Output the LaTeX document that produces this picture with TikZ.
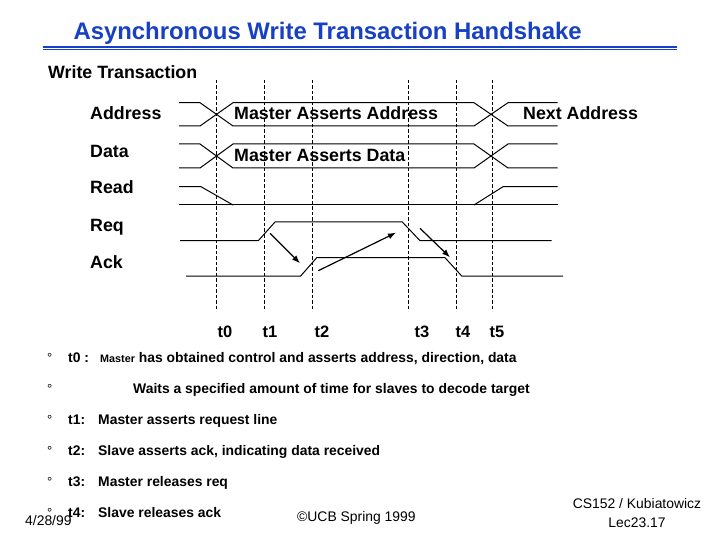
\documentclass[tikz,border=0pt]{standalone}
\usepackage{fontspec}
\setmainfont{Liberation Sans}
\usetikzlibrary{arrows.meta}
\definecolor{slideblue}{RGB}{24,64,196}
\begin{document}
\begin{tikzpicture}[x=1pt,y=1pt,
  every node/.style={inner sep=0pt, anchor=base west},
  wave/.style={black, line width=1pt},
  tick/.style={black, line width=0.6pt, dash pattern=on 3.5pt off 2pt},
  flow/.style={black, line width=1.2pt, -{Latex[length=8pt,width=6pt]}},
  sig/.style={font=\bfseries\fontsize{17.8}{18}\selectfont},
  tlab/.style={anchor=base, font=\bfseries\fontsize{16.5}{17}\selectfont},
  item/.style={font=\bfseries\fontsize{13.9}{14}\selectfont},
  dot/.style={font=\fontsize{13}{13}\selectfont},
  foot/.style={font=\fontsize{13.9}{14}\selectfont}]
\useasboundingbox (0,0) rectangle (720,-540);
% title
\draw (73.3,-40) node (title) [text=slideblue, font=\bfseries\fontsize{23.9}{24}\selectfont] {Asynchronous Write Transaction Handshake};
\draw [slideblue, line width=2pt] (42.7,-46.7) -- (676.7,-46.7);
\draw [slideblue, line width=0.9pt] (42.7,-49.6) -- (676.7,-49.6);
\draw (48,-79) node (wtrans) [sig] {Write Transaction};
% signal names
\draw (90,-120) node (addr) [sig] {Address};
\draw (90,-158) node (data) [sig] {Data};
\draw (90,-194) node (read) [sig] {Read};
\draw (90,-231) node (req) [sig] {Req};
\draw (90,-268) node (ack) [sig] {Ack};
\draw (234,-120) node (maddr) [sig] {Master Asserts Address};
\draw (523,-120) node (naddr) [sig] {Next Address};
\draw (234,-162) node (mdata) [sig] {Master Asserts Data};
% time marks
\draw [tick] (216.7,-80) -- (216.7,-311);
\draw [tick] (264.3,-80) -- (264.3,-311);
\draw [tick] (312.3,-80) -- (312.3,-311);
\draw [tick] (408.3,-80) -- (408.3,-311);
\draw [tick] (456.7,-80) -- (456.7,-311);
\draw [tick] (492.3,-80) -- (492.3,-311);
\draw (225,-337) node (t0) [tlab] {t0};
\draw (270,-337) node (t1) [tlab] {t1};
\draw (322,-337) node (t2) [tlab] {t2};
\draw (422,-337) node (t3) [tlab] {t3};
\draw (463,-337) node (t4) [tlab] {t4};
\draw (497,-337) node (t5) [tlab] {t5};
% address bus
\draw [wave] (179,-102.7) -- (200,-102.7) -- (233,-126) -- (474,-126) -- (508,-102.7) -- (557.7,-102.7);
\draw [wave] (179,-126) -- (200,-126) -- (233,-102.7) -- (474,-102.7) -- (508,-126) -- (557.7,-126);
% data bus
\draw [wave] (179,-144) -- (200,-144) -- (233,-168) -- (474,-168) -- (508,-144) -- (557.7,-144);
\draw [wave] (179,-168) -- (200,-168) -- (233,-144) -- (474,-144) -- (508,-168) -- (557.7,-168);
% read
\draw [wave] (179,-186.7) -- (201,-186.7) -- (233,-205);
\draw [wave] (179,-205) -- (557.7,-205);
\draw [wave] (474,-205) -- (503,-186.7) -- (557.7,-186.7);
% req
\draw [wave] (180,-240.7) -- (258.3,-240.7) -- (275,-222) -- (402.3,-222) -- (420,-240.7) -- (551.7,-240.7);
% ack
\draw [wave] (186,-276) -- (300.7,-276) -- (316.7,-257.7) -- (445,-257.7) -- (461.7,-276) -- (563,-276);
% handshake arrows
\coordinate (requp) at (270,-233.3);
\coordinate (ackup) at (300,-263.3);
\coordinate (ackgo) at (318.3,-270.7);
\coordinate (reqdn) at (396,-232.7);
\coordinate (reqgo) at (420,-228.3);
\coordinate (ackdn) at (450,-257.3);
\draw [flow] (requp) -- (ackup);
\draw [flow] (ackgo) -- (reqdn);
\draw [flow] (reqgo) -- (ackdn);
% notes
\draw (47,-362) node (d1) [dot] {°};
\draw (68,-362) node (n1tag) [item] {t0 :};
\draw (100,-362) node (n1txt) [item] {{\fontsize{10.8}{11}\selectfont Master} has obtained control and asserts address, direction, data};
\draw (47,-393) node (d2) [dot] {°};
\draw (133,-393) node (n2txt) [item] {Waits a specified amount of time for slaves to decode target};
\draw (47,-424) node (d3) [dot] {°};
\draw (68,-424) node (n3tag) [item] {t1:};
\draw (98,-424) node (n3txt) [item] {Master asserts request line};
\draw (47,-455) node (d4) [dot] {°};
\draw (68,-455) node (n4tag) [item] {t2:};
\draw (98,-455) node (n4txt) [item] {Slave asserts ack, indicating data received};
\draw (47,-486) node (d5) [dot] {°};
\draw (68,-486) node (n5tag) [item] {t3:};
\draw (98,-486) node (n5txt) [item] {Master releases req};
\draw (47,-517) node (d6) [dot] {°};
\draw (68,-517) node (n6tag) [item] {t4:};
\draw (98,-517) node (n6txt) [item] {Slave releases ack};
% footer
\draw (25,-525) node (date) [foot] {4/28/99};
\draw (297,-521) node (copy) [foot] {©UCB Spring 1999};
\draw (637,-508.5) node (course) [foot, anchor=base] {CS152 / Kubiatowicz};
\draw (637,-527) node (lec) [foot, anchor=base] {Lec23.17};
\end{tikzpicture}
\end{document}
